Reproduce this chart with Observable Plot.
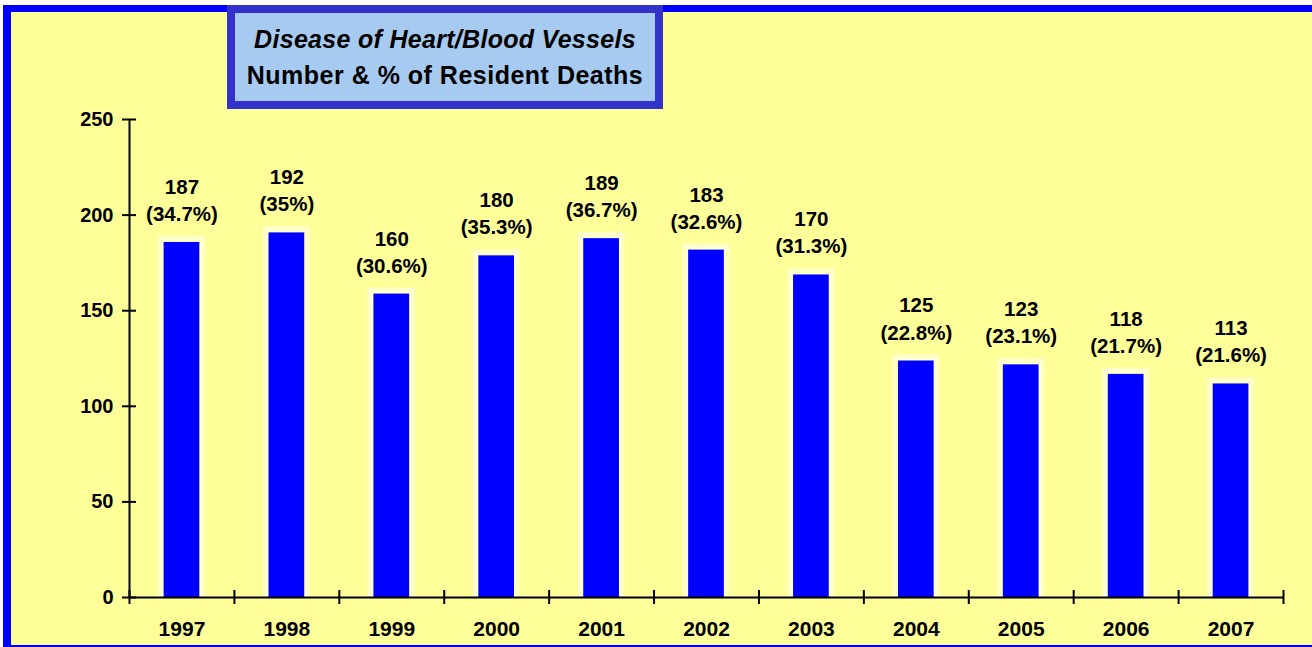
<!DOCTYPE html>
<html>
<head>
<meta charset="utf-8">
<script src="https://cdn.jsdelivr.net/npm/d3@7"></script>
<script src="https://cdn.jsdelivr.net/npm/@observablehq/plot@0.6"></script>
<style>
  html, body { margin: 0; padding: 0; background: #fff; }
  #wrap { position: relative; width: 1312px; height: 647px; overflow: hidden; background: #fff;
          font-family: "Liberation Sans", Arial, sans-serif; }
  #frame { position: absolute; left: 3px; top: 5px; width: 1330px; height: 633px; background: #ffff99;
           border-left: 8px solid #0000ff; border-top: 7px solid #0000ff; border-bottom: 2px solid #0000ff; }
  #chart { position: absolute; left: 0; top: 0; }
  #chart svg { background: transparent !important; }
  #title { position: absolute; left: 227px; top: 5px; width: 420px; height: 88px; border: 8px solid #3333cc;
           background: #a6caf0; text-align: center; color: #000; font-weight: bold; }
  #title .l1 { font-style: italic; font-size: 25px; line-height: 36px; margin-top: 8px; letter-spacing: 0.3px; }
  #title .l2 { font-size: 25px; line-height: 36px; letter-spacing: 0.5px; }
</style>
</head>
<body>
<div id="wrap">
  <div id="frame"></div>
  <div id="chart"></div>
  <div id="title"><div class="l1">Disease of Heart/Blood Vessels</div><div class="l2">Number &amp; % of Resident Deaths</div></div>
</div>
<script>
const years = ["1997","1998","1999","2000","2001","2002","2003","2004","2005","2006","2007"];
const deaths = [187, 192, 160, 180, 189, 183, 170, 125, 123, 118, 113];
const percents = [34.7, 35, 30.6, 35.3, 36.7, 32.6, 31.3, 22.8, 23.1, 21.7, 21.6];
const yTicks = [0, 50, 100, 150, 200, 250];

const data = years.map((year, i) => ({i, year, value: deaths[i], pct: percents[i]}));
const n = years.length;
const boundaries = d3.range(n + 1);
const centers = d3.range(n).map(i => i + 0.5);

const chart = Plot.plot({
  width: 1312,
  height: 647,
  marginLeft: 129,
  marginRight: 29,
  marginTop: 119,
  marginBottom: 50,
  style: {background: "transparent", fontFamily: "Liberation Sans, Arial, sans-serif", fontWeight: "bold", color: "#000"},
  x: {type: "linear", domain: [0, n]},
  y: {domain: [0, 250]},
  marks: [
    // halo behind bars
    Plot.rectY(data, {x1: d => d.i, x2: d => d.i + 1, y1: 0, y2: "value", fill: "#ffffcc",
      insetLeft: 29, insetRight: 29, insetTop: -3.5}),
    Plot.rectY(data, {x1: d => d.i, x2: d => d.i + 1, y1: 0, y2: "value", fill: "#0000ff",
      insetLeft: 34.6, insetRight: 34.6, insetTop: 2.5}),
    // axis lines
    Plot.ruleX([0], {y1: 0, y2: 250, stroke: "#000", strokeWidth: 2}),
    Plot.ruleY([0], {x1: 0, x2: n, stroke: "#000", strokeWidth: 2}),
    // crossing tick marks
    Plot.ruleX(boundaries, {x: d => d, y1: 0, y2: 0, insetTop: -7, insetBottom: -7, stroke: "#000", strokeWidth: 2}),
    Plot.ruleY(yTicks, {y: d => d, x1: 0, x2: 0, insetLeft: -7, insetRight: -7, stroke: "#000", strokeWidth: 2}),
    // axis labels
    Plot.axisY({ticks: yTicks, tickSize: 0, tickPadding: 16, fontSize: 20, fontWeight: "bold", label: null,
      tickFormat: d => String(d)}),
    Plot.axisX({ticks: centers, tickSize: 0, tickPadding: 24, fontSize: 21, fontWeight: "bold", label: null,
      tickFormat: d => years[Math.floor(d)]}),
    // value labels
    Plot.text(data, {x: d => d.i + 0.5, y: "value", text: d => `${d.value}\n(${d.pct}%)`,
      lineAnchor: "bottom", dy: -19, lineHeight: 1.32, fontSize: 20.5, fontWeight: "bold", fill: "#000"})
  ]
});
document.getElementById("chart").appendChild(chart);
</script>
</body>
</html>
